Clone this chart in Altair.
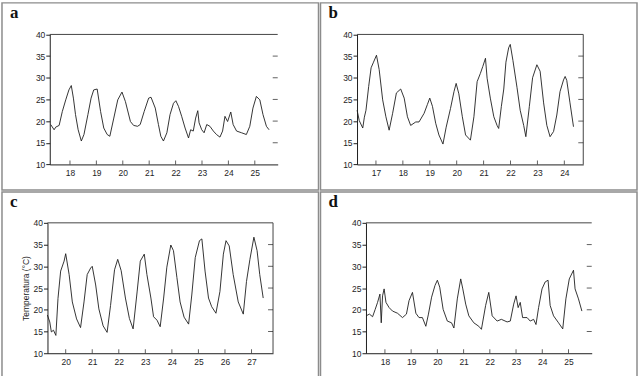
import altair as alt
import pandas as pd

# ---------------- data (day of month, temperature in deg C) ----------------
a_day = [17.27, 17.40, 17.46, 17.59, 17.71, 17.84, 17.96, 18.05, 18.13, 18.21,
         18.31, 18.43, 18.53, 18.68, 18.80, 18.90, 19.03, 19.16, 19.28, 19.41,
         19.51, 19.66, 19.81, 19.97, 20.10, 20.29, 20.41, 20.56, 20.66, 20.81,
         20.98, 21.07, 21.23, 21.35, 21.44, 21.54, 21.67, 21.79, 21.92, 22.01,
         22.11, 22.23, 22.36, 22.49, 22.57, 22.67, 22.76, 22.84, 22.89, 22.99,
         23.08, 23.18, 23.30, 23.43, 23.55, 23.68, 23.78, 23.87, 23.97, 24.09,
         24.18, 24.31, 24.50, 24.68, 24.81, 24.93, 25.06, 25.19, 25.31, 25.44,
         25.54]
a_temp = [19.2, 18.0, 18.6, 19.0, 22.2, 24.9, 27.2, 28.2, 25.3, 21.5,
          18.0, 15.4, 16.9, 21.5, 25.3, 27.2, 27.4, 22.2, 18.4, 16.9,
          16.5, 20.7, 24.9, 26.7, 24.5, 19.9, 19.0, 18.8, 19.2, 22.2,
          25.3, 25.5, 23.0, 19.2, 16.5, 15.4, 17.3, 21.5, 24.1, 24.7,
          23.4, 21.1, 18.4, 16.1, 18.0, 17.7, 20.7, 22.4, 19.6, 18.0,
          17.3, 19.2, 18.8, 17.7, 16.9, 16.3, 17.7, 21.1, 19.9, 22.1,
          19.2, 17.7, 17.3, 16.9, 18.8, 23.0, 25.7, 24.9, 21.5, 18.8,
          18.0]

b_day = [16.30, 16.38, 16.51, 16.57, 16.63, 16.73, 16.82, 16.91, 17.02, 17.12,
         17.25, 17.37, 17.49, 17.62, 17.76, 17.92, 18.05, 18.17, 18.29, 18.48,
         18.60, 18.79, 18.91, 19.00, 19.10, 19.22, 19.34, 19.49, 19.61, 19.77,
         19.90, 19.98, 20.08, 20.21, 20.33, 20.51, 20.64, 20.76, 20.88, 20.97,
         21.07, 21.13, 21.25, 21.38, 21.50, 21.56, 21.66, 21.75, 21.83, 21.93,
         21.99, 22.09, 22.24, 22.36, 22.49, 22.57, 22.70, 22.82, 22.98, 23.10,
         23.23, 23.35, 23.47, 23.60, 23.72, 23.84, 23.97, 24.03, 24.09, 24.21,
         24.34]
b_temp = [22.5, 20.1, 18.4, 20.9, 22.5, 28.0, 32.3, 33.6, 35.2, 31.9,
          24.9, 21.0, 17.9, 21.8, 26.5, 27.4, 25.3, 21.0, 19.0, 19.8,
          19.8, 21.8, 23.8, 25.3, 23.4, 19.5, 16.8, 14.7, 18.6, 22.9,
          26.8, 28.7, 26.3, 21.0, 16.8, 15.6, 21.0, 29.1, 31.0, 32.6,
          34.5, 29.9, 25.3, 21.0, 19.0, 18.3, 23.4, 27.4, 33.6, 36.9,
          37.7, 34.0, 27.8, 22.5, 19.0, 16.4, 23.4, 30.0, 33.0, 31.5,
          24.2, 19.0, 16.4, 17.6, 21.4, 26.8, 29.5, 30.3, 29.4, 24.2,
          18.7]

c_day = [19.31, 19.40, 19.46, 19.54, 19.63, 19.71, 19.81, 19.94, 20.00, 20.13,
         20.25, 20.41, 20.56, 20.69, 20.81, 20.94, 21.00, 21.13, 21.25, 21.41,
         21.56, 21.69, 21.84, 21.96, 22.09, 22.25, 22.40, 22.54, 22.69, 22.81,
         22.96, 23.06, 23.21, 23.31, 23.44, 23.56, 23.69, 23.81, 23.96, 24.06,
         24.19, 24.31, 24.46, 24.63, 24.75, 24.88, 25.04, 25.13, 25.25, 25.38,
         25.50, 25.66, 25.81, 25.94, 26.04, 26.16, 26.31, 26.50, 26.69, 26.81,
         26.94, 27.09, 27.21, 27.31, 27.44]
c_temp = [18.8, 17.2, 14.9, 15.3, 14.1, 22.6, 28.9, 31.2, 32.9, 28.1,
          21.8, 17.9, 15.9, 21.8, 28.1, 29.6, 30.0, 25.7, 20.2, 16.3,
          14.8, 21.0, 29.2, 31.6, 29.0, 22.7, 18.0, 15.6, 24.1, 31.2,
          32.8, 28.1, 22.7, 18.4, 17.6, 16.1, 22.7, 29.8, 34.9, 33.6,
          27.4, 21.8, 18.3, 16.7, 23.4, 32.0, 35.9, 36.3, 28.9, 22.7,
          20.7, 19.2, 24.2, 32.8, 35.9, 34.7, 28.1, 21.8, 19.0, 26.5,
          31.6, 36.7, 33.6, 28.1, 22.7]

d_day = [17.28, 17.41, 17.53, 17.63, 17.72, 17.81, 17.86, 17.91, 17.97, 18.04,
         18.16, 18.29, 18.48, 18.67, 18.82, 18.92, 19.05, 19.18, 19.30, 19.43,
         19.56, 19.66, 19.78, 19.91, 20.00, 20.09, 20.22, 20.38, 20.54, 20.63,
         20.76, 20.89, 20.97, 21.08, 21.20, 21.39, 21.58, 21.68, 21.84, 21.96,
         22.09, 22.28, 22.44, 22.66, 22.78, 22.91, 23.00, 23.08, 23.16, 23.25,
         23.42, 23.54, 23.67, 23.76, 23.86, 23.99, 24.11, 24.22, 24.30, 24.43,
         24.62, 24.78, 24.90, 25.03, 25.19, 25.25, 25.38, 25.51]
d_temp = [18.6, 19.0, 18.4, 20.1, 21.7, 23.6, 17.0, 23.2, 24.8, 21.7,
          20.5, 19.7, 19.2, 18.2, 19.0, 22.1, 24.0, 19.2, 18.2, 18.2,
          16.2, 19.0, 22.9, 25.6, 26.8, 25.2, 20.1, 17.4, 17.0, 15.8,
          22.5, 27.1, 24.8, 21.3, 18.6, 17.0, 16.2, 15.5, 21.0, 24.0,
          18.6, 17.4, 17.8, 17.2, 17.4, 21.3, 23.2, 20.5, 21.7, 18.2,
          18.2, 17.4, 17.8, 16.6, 20.5, 24.8, 26.4, 26.8, 21.0, 18.6,
          17.0, 15.6, 22.5, 27.1, 29.1, 24.8, 22.5, 19.7]

a_ticks = [18, 19, 20, 21, 22, 23, 24, 25]
b_ticks = [17, 18, 19, 20, 21, 22, 23, 24]
c_ticks = [20, 21, 22, 23, 24, 25, 26, 27]
d_ticks = [18, 19, 20, 21, 22, 23, 24, 25]

y_ticks = [10, 15, 20, 25, 30, 35, 40]
right_ticks = [15, 20, 25, 30, 35]
y_title_c = "Temperatura (°C)"

FONT = "Liberation Sans"
INK = "#1e1e1e"


def panel(letter, days, temps, xdom, xr, yr, day_ticks, W, H, right_line, ytitle=None):
    L, R = xr
    B, T = yr
    xs = alt.Scale(domain=xdom, range=[L, R], nice=False, zero=False)
    ys = alt.Scale(domain=[10, 40], range=[B, T], nice=False, zero=False)

    yaxis_kw = dict(orient="left", offset=-L, values=y_ticks, tickSize=4,
                    labelPadding=1, grid=False, domainColor=INK, tickColor=INK,
                    labelColor=INK, labelFont=FONT, labelFontSize=8.5,
                    labelOverlap=False, tickCount=7)
    if ytitle:
        yaxis_kw.update(title=ytitle, titleFont=FONT, titleFontSize=8.5,
                        titleFontWeight="normal", titleColor=INK, titlePadding=3)
    else:
        yaxis_kw.update(title=None)

    line = alt.Chart(pd.DataFrame({"t": days, "v": temps})).mark_line(
        color=INK, strokeWidth=0.9
    ).encode(
        x=alt.X("t:Q", scale=xs,
                axis=alt.Axis(orient="bottom", offset=B - H, values=day_ticks,
                              ticks=False, tickSize=0, labelPadding=4, grid=False,
                              domainColor=INK, labelColor=INK, labelFont=FONT,
                              labelFontSize=8.5, format="d", title=None,
                              labelOverlap=False)),
        y=alt.Y("v:Q", scale=ys, axis=alt.Axis(**yaxis_kw)),
    )

    top = alt.Chart(pd.DataFrame({"t": [xdom[0]], "t1": [xdom[1]], "v": [40]})).mark_rule(
        color="#444", strokeWidth=1
    ).encode(x="t:Q", x2="t1:Q", y="v:Q")

    layers = [line, top]

    if right_line:
        rl = alt.Chart(pd.DataFrame({"t": [xdom[1]], "v": [10], "v1": [40]})).mark_rule(
            color="#444", strokeWidth=1
        ).encode(x="t:Q", y="v:Q", y2="v1:Q")
        layers.append(rl)

    rt = alt.Chart(pd.DataFrame({"t": [xdom[1]] * len(right_ticks), "v": right_ticks})).mark_tick(
        orient="horizontal", size=5, thickness=1, xOffset=-2.5, color=INK
    ).encode(x="t:Q", y="v:Q")
    layers.append(rt)

    bt = alt.Chart(pd.DataFrame({"t": day_ticks, "v": [10] * len(day_ticks)})).mark_tick(
        orient="vertical", size=4, thickness=1, yOffset=-2, color=INK
    ).encode(x="t:Q", y="v:Q")
    layers.append(bt)

    lab = alt.Chart(pd.DataFrame({"lab": [letter]})).mark_text(
        align="left", baseline="alphabetic", font="Liberation Serif",
        fontWeight="bold", fontSize=17, color="#111"
    ).encode(x=alt.value(8), y=alt.value(15), text="lab:N")
    layers.append(lab)

    return alt.layer(*layers).properties(width=W, height=H)


pa = panel("a", a_day, a_temp, [17.235, 25.867], (48, 277), (162.3, 31.7), a_ticks, 318, 188, False)
pb = panel("b", b_day, b_temp, [16.297, 24.703], (36.7, 264), (162.3, 31.7), b_ticks, 318, 188, True)
pc = panel("c", c_day, c_temp, [19.314, 27.81], (45.7, 272.3), (162, 31), c_ticks, 318, 186, True, y_title_c)
pd_ = panel("d", d_day, d_temp, [17.278, 25.885], (45.7, 272.5), (162, 31), d_ticks, 318, 186, False)

chart = alt.vconcat(
    alt.hconcat(pa, pb, spacing=0),
    alt.hconcat(pc, pd_, spacing=0),
    spacing=0,
).properties(
    padding={"left": 1, "top": 1, "right": 0, "bottom": 0},
    background="white",
).configure_view(stroke="#8c8c8c", strokeWidth=1.5, fill="white")

chart.save("out.html", embed_options={"renderer": "svg", "actions": False})
